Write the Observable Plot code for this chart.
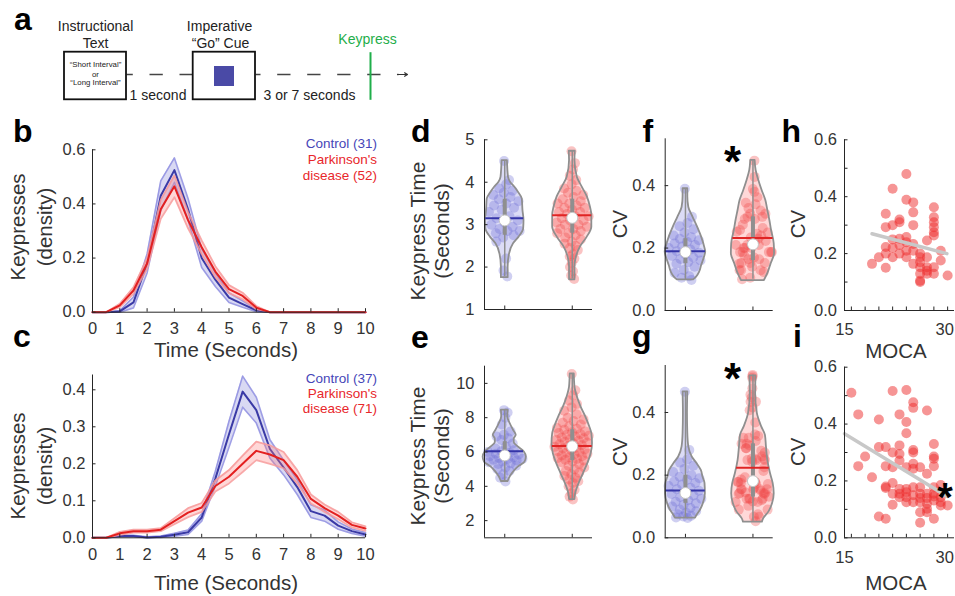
<!DOCTYPE html>
<html><head><meta charset="utf-8">
<script src="https://cdn.jsdelivr.net/npm/d3@7"></script>
<script src="https://cdn.jsdelivr.net/npm/@observablehq/plot@0.6"></script>
<style>
body{margin:0;background:#fff;}
#fig{position:relative;width:955px;height:596px;overflow:hidden;background:#fff;}
</style></head><body><div id="fig"></div>
<script>
// ---------------- DATA ----------------
const timeBins = [0,0.5,1,1.5,2,2.5,3,3.5,4,4.5,5,5.5,6,6.5,7,7.5,8,8.5,9,9.5,10];
const bControlMean = [0,0,0.003,0.036,0.18,0.43,0.525,0.38,0.2,0.12,0.054,0.03,0.007,0,0,0,0,0,0,0,0];
const bControlSem  = [0,0,0.003,0.02,0.035,0.055,0.045,0.04,0.035,0.025,0.018,0.012,0.005,0,0,0,0,0,0,0,0];
const bPdMean      = [0,0,0.025,0.08,0.18,0.38,0.465,0.34,0.24,0.15,0.085,0.06,0.017,0,0,0,0,0,0,0,0];
const bPdSem       = [0,0,0.006,0.012,0.02,0.035,0.04,0.03,0.025,0.02,0.015,0.012,0.006,0,0,0,0,0,0,0,0];
const cControlMean = [0,0,0.005,0.005,0.001,0.003,0.008,0.015,0.055,0.16,0.28,0.395,0.345,0.24,0.19,0.137,0.072,0.06,0.033,0.018,0.009];
const cControlSem  = [0,0,0.002,0.002,0.002,0.002,0.004,0.006,0.01,0.02,0.035,0.042,0.035,0.025,0.02,0.02,0.017,0.015,0.01,0.006,0.005];
const cPdMean      = [0,0,0.012,0.018,0.018,0.022,0.045,0.068,0.082,0.14,0.165,0.2,0.235,0.225,0.21,0.165,0.105,0.08,0.06,0.035,0.025];
const cPdSem       = [0,0,0.004,0.004,0.004,0.004,0.008,0.012,0.012,0.015,0.018,0.022,0.025,0.025,0.022,0.018,0.012,0.01,0.01,0.007,0.006];

// keypress times (s), short interval / long interval
const dControlTimes = [4.5,4.05,3.95,3.85,3.8,3.75,3.7,3.65,3.6,3.55,3.5,3.45,3.4,3.35,3.3,3.2,3.15,3.1,3.05,3.0,2.95,2.9,2.85,2.85,2.8,2.75,2.7,2.6,2.2,1.92,1.78];
const dPdTimes = [4.73,4.45,4.3,4.15,4.05,3.95,3.85,3.8,3.75,3.7,3.65,3.6,3.55,3.5,3.5,3.45,3.4,3.4,3.35,3.3,3.3,3.25,3.2,3.2,3.15,3.1,3.1,3.05,3.0,3.0,2.95,2.9,2.9,2.85,2.8,2.8,2.75,2.7,2.65,2.6,2.55,2.5,2.45,2.4,2.3,2.25,2.2,2.1,2.0,1.9,1.8,1.72];
const eControlTimes = [8.44,8.3,8.0,7.6,7.2,7.0,6.9,6.8,6.7,6.5,6.3,6.2,6.1,6.05,6.0,5.95,5.9,5.85,5.8,5.75,5.7,5.65,5.6,5.6,5.55,5.5,5.45,5.4,5.35,5.3,5.2,5.1,5.0,4.9,4.7,4.5,4.28];
const ePdTimes = [10.55,9.6,9.3,9.0,8.8,8.6,8.4,8.2,8.0,7.9,7.8,7.7,7.6,7.5,7.4,7.35,7.3,7.2,7.15,7.1,7.05,7.0,6.95,6.9,6.85,6.8,6.75,6.7,6.65,6.6,6.55,6.5,6.45,6.4,6.35,6.3,6.25,6.2,6.15,6.1,6.05,6.0,5.95,5.9,5.85,5.8,5.75,5.7,5.65,5.6,5.55,5.5,5.45,5.4,5.3,5.2,5.1,5.0,4.9,4.8,4.7,4.6,4.5,4.4,4.3,4.2,4.0,3.8,3.6,3.4,3.23];
const fControlCv = [0.39,0.3,0.28,0.27,0.26,0.25,0.24,0.235,0.23,0.225,0.22,0.215,0.21,0.205,0.2,0.195,0.19,0.185,0.18,0.175,0.17,0.165,0.16,0.155,0.15,0.14,0.13,0.12,0.11,0.105,0.098];
const gControlCv = [0.466,0.28,0.25,0.24,0.23,0.22,0.21,0.2,0.195,0.19,0.185,0.18,0.175,0.17,0.165,0.16,0.155,0.15,0.145,0.14,0.135,0.13,0.125,0.12,0.115,0.11,0.105,0.1,0.095,0.09,0.085,0.08,0.075,0.07,0.068,0.065,0.063];

// Parkinson's MOCA vs CV (also the PD violins of f and g)
const hMoca = [19,20,21,21,21,21,21,22,22,22,22,22,23,23,23,23,23,24,24,24,24,24,24,25,25,25,25,25,25,26,26,26,26,26,26,26,27,27,27,27,27,28,28,28,28,28,28,28,28,29,29,30];
const hCv = [0.164,0.187,0.34,0.293,0.223,0.2,0.15,0.428,0.30,0.25,0.22,0.187,0.32,0.31,0.252,0.23,0.2,0.48,0.389,0.258,0.24,0.21,0.187,0.38,0.345,0.30,0.234,0.21,0.164,0.2,0.187,0.17,0.152,0.129,0.105,0.1,0.246,0.187,0.152,0.14,0.129,0.363,0.328,0.31,0.293,0.275,0.264,0.152,0.129,0.21,0.176,0.123];
const iMoca = [16,17,17,18,19,20,20,20,21,21,21,21,21,22,22,22,22,22,22,23,23,23,23,23,23,23,24,24,24,24,24,24,24,24,25,25,25,25,25,25,25,25,25,26,26,26,26,26,26,26,27,27,27,27,27,27,27,28,28,28,28,28,28,28,28,28,29,29,29,29,30];
const iCv = [0.51,0.434,0.252,0.286,0.213,0.416,0.319,0.075,0.319,0.252,0.18,0.175,0.067,0.516,0.30,0.248,0.193,0.155,0.116,0.434,0.325,0.295,0.272,0.172,0.155,0.143,0.52,0.407,0.368,0.248,0.172,0.16,0.143,0.125,0.477,0.457,0.309,0.30,0.26,0.243,0.178,0.15,0.125,0.248,0.178,0.155,0.14,0.125,0.09,0.053,0.448,0.225,0.155,0.14,0.12,0.102,0.09,0.33,0.286,0.278,0.252,0.178,0.155,0.145,0.131,0.067,0.186,0.143,0.125,0.114,0.114];
const hFit = [[19,0.27],[29.9,0.2]];
const iFit = [[15,0.366],[29.9,0.146]];

// violin outlines: [value, half-width in category units]
const dControlShape = [[1.75,0.05],[2.0,0.05],[2.3,0.07],[2.55,0.13],[2.7,0.21],[2.9,0.28],[3.1,0.285],[3.33,0.27],[3.6,0.26],[3.77,0.2],[3.88,0.15],[4.0,0.085],[4.12,0.055],[4.51,0.04]];
const dPdShape = [[1.7,0.04],[2.0,0.04],[2.23,0.06],[2.47,0.12],[2.7,0.22],[2.94,0.29],[3.22,0.29],[3.41,0.27],[3.65,0.225],[3.88,0.15],[4.12,0.075],[4.51,0.04],[4.73,0.045]];
const eControlShape = [[4.28,0.05],[4.54,0.08],[4.83,0.13],[5.12,0.2],[5.41,0.3],[5.71,0.32],[6.0,0.29],[6.3,0.2],[6.55,0.14],[6.75,0.14],[6.98,0.17],[7.27,0.13],[7.66,0.08],[8.05,0.045],[8.44,0.05]];
const ePdShape = [[3.23,0.04],[3.56,0.05],[4.15,0.1],[4.73,0.165],[5.32,0.23],[5.9,0.28],[6.49,0.3],[7.07,0.29],[7.46,0.26],[8.05,0.2],[8.63,0.13],[9.22,0.075],[9.8,0.04],[10.55,0.03]];
const fControlShape = [[0.098,0.12],[0.107,0.165],[0.123,0.21],[0.144,0.24],[0.166,0.275],[0.187,0.3],[0.203,0.285],[0.235,0.24],[0.267,0.18],[0.3,0.11],[0.33,0.05],[0.364,0.035],[0.39,0.035]];
const fPdShape = [[0.096,0.17],[0.118,0.22],[0.15,0.27],[0.182,0.32],[0.214,0.315],[0.257,0.275],[0.289,0.25],[0.321,0.22],[0.353,0.19],[0.385,0.135],[0.417,0.086],[0.449,0.047],[0.481,0.032]];
const gControlShape = [[0.063,0.15],[0.071,0.17],[0.087,0.22],[0.109,0.265],[0.141,0.295],[0.173,0.29],[0.194,0.26],[0.215,0.235],[0.237,0.17],[0.258,0.1],[0.29,0.05],[0.333,0.035],[0.397,0.03],[0.466,0.035]];
const gPdShape = [[0.05,0.14],[0.061,0.16],[0.082,0.235],[0.109,0.29],[0.141,0.315],[0.173,0.3],[0.205,0.26],[0.247,0.22],[0.29,0.2],[0.327,0.185],[0.354,0.13],[0.397,0.065],[0.46,0.04],[0.517,0.045]];
// summary stats: [q1, median, q3, mean]
const dControlStats = [2.75,3.1,3.6,3.15];
const dPdStats = [2.8,3.16,3.6,3.22];
const eControlStats = [5.45,5.8,6.6,6.04];
const ePdStats = [5.5,6.33,7.3,6.35];
const fControlStats = [0.15,0.187,0.23,0.19];
const fPdStats = [0.16,0.212,0.3,0.232];
const gControlStats = [0.11,0.143,0.2,0.151];
const gPdStats = [0.13,0.181,0.3,0.224];

const groupLabels = ["Control", "Parkinson's"];

// ---------------- STYLE ----------------
const FONT = '"Liberation Sans", Arial, Helvetica, sans-serif';
const AXIS = "#262626";
const C_LINE = "#3a3aa6", C_BAND = "#8080d8", C_EDGE = "#8e8ee0";
const P_LINE = "#e32020", P_BAND = "#ff7a7a", P_EDGE = "#f79a9a";
const fig = document.getElementById("fig");
const baseStyle = {fontFamily: FONT, fontSize: "16.5px", color: "#333", background: "transparent", overflow: "visible"};

function place(el, left, top) {
  el.style.position = "absolute"; el.style.left = left + "px"; el.style.top = top + "px";
  fig.appendChild(el);
}

function axesMarks({xDomain, yDomain, xTicks, yTicks, xLabelTicks, frameW, frameH, xPad = 11, yPad = 7, xMinor = [], yMinor = [], lastDx = 0}) {
  const m = [
    Plot.ruleX([xDomain[0]], {stroke: AXIS, strokeWidth: 1}),
    Plot.ruleY([yDomain[0]], {stroke: AXIS, strokeWidth: 1}),
    Plot.tickY(yTicks.concat(yMinor), {y: d => d, insetRight: frameW - 3.5, stroke: AXIS}),
    Plot.tickX(xTicks.concat(xMinor), {x: d => d, insetTop: frameH - 3.5, stroke: AXIS}),
    Plot.axisY(yTicks, {tickSize: 0, tickPadding: yPad, label: null})
  ];
  if (xLabelTicks) {
    if (lastDx) {
      m.push(Plot.axisX(xLabelTicks.slice(0, -1), {tickSize: 0, tickPadding: xPad, label: null}));
      m.push(Plot.axisX(xLabelTicks.slice(-1), {tickSize: 0, tickPadding: xPad, label: null, dx: lastDx}));
    } else {
      m.push(Plot.axisX(xLabelTicks, {tickSize: 0, tickPadding: xPad, label: null}));
    }
  }
  return m;
}

// ---------------- PANEL a (schematic) ----------------
(function () {
  const boxes = [{x1: 64, x2: 126, y1: 51.7, y2: 99.3}, {x1: 192.7, x2: 255, y1: 51.7, y2: 99.3}];
  const cue = [{x1: 214, x2: 234, y1: 66, y2: 86}];
  const dashes = [{x1: 126, x2: 192.7, off: 7}, {x1: 255, x2: 398, off: 8.3}];
  const labels = [
    {t: "Instructional", x: 95, b: 30.7, s: 14, c: "#222"},
    {t: "Text", x: 95, b: 47.3, s: 14, c: "#222"},
    {t: "Imperative", x: 219, b: 30.7, s: 14, c: "#222"},
    {t: "\u201CGo\u201D Cue", x: 220, b: 47.3, s: 14, c: "#222"},
    {t: "Keypress", x: 367, b: 43.3, s: 14, c: "#1fae4a"},
    {t: "\u201CShort Interval\u201D", x: 95, b: 66, s: 7.8, c: "#222"},
    {t: "or", x: 95, b: 76, s: 7.8, c: "#222"},
    {t: "\u201CLong Interval\u201D", x: 95, b: 84.7, s: 7.8, c: "#222"},
    {t: "1 second", x: 157.5, b: 99.3, s: 14, c: "#222"},
    {t: "3 or 7 seconds", x: 309, b: 99.3, s: 14, c: "#222"}
  ];
  const marks = [
    ...dashes.map(d => Plot.link([d], {x1: "x1", x2: "x2", y1: () => 74, y2: () => 74, stroke: "#444", strokeWidth: 1.4, strokeDasharray: "13.3,16.7", strokeDashoffset: d.off})),
    Plot.arrow([{x1: 397, x2: 407}], {x1: "x1", x2: "x2", y1: () => 74, y2: () => 74, stroke: "#333", strokeWidth: 1.2, headLength: 6}),
    Plot.rect(boxes, {x1: "x1", x2: "x2", y1: "y1", y2: "y2", fill: "white", stroke: "#111", strokeWidth: 1.8}),
    Plot.rect(cue, {x1: "x1", x2: "x2", y1: "y1", y2: "y2", fill: "#4a4aa6"}),
    Plot.link([{x: 370}], {x1: "x", x2: "x", y1: () => 51.7, y2: () => 99.3, stroke: "#1fae4a", strokeWidth: 2}),
    ...labels.map(l => Plot.text([l], {x: "x", y: d => d.b - 0.32 * d.s, text: "t", fontSize: l.s, fill: l.c}))
  ];
  const svg = Plot.plot({width: 420, height: 110, margin: 0,
    x: {domain: [0, 420], range: [0, 420], axis: null},
    y: {domain: [0, 110], range: [0, 110], axis: null},
    style: baseStyle, marks});
  place(svg, 0, 0);
})();

// ---------------- PANELS b, c (density curves) ----------------
function densityPanel({cm, cs, pm, ps, yDomain, yTicks, left, top, mT, mB}) {
  const width = 385, height = 240, mL = 92, mR = 20;
  const rows = timeBins.map((t, i) => ({t,
    cm: cm[i], clo: Math.max(0, cm[i] - cs[i]), chi: cm[i] + cs[i],
    pm: pm[i], plo: Math.max(0, pm[i] - ps[i]), phi: pm[i] + ps[i]}));
  const ticks = d3.range(0, 11);
  const marks = [
    Plot.areaY(rows, {x: "t", y1: "clo", y2: "chi", fill: C_BAND, fillOpacity: 0.3}),
    Plot.lineY(rows, {x: "t", y: "clo", stroke: C_EDGE, strokeWidth: 1.6, strokeOpacity: 0.85}),
    Plot.lineY(rows, {x: "t", y: "chi", stroke: C_EDGE, strokeWidth: 1.6, strokeOpacity: 0.85}),
    Plot.lineY(rows, {x: "t", y: "cm", stroke: C_LINE, strokeWidth: 2}),
    Plot.areaY(rows, {x: "t", y1: "plo", y2: "phi", fill: P_BAND, fillOpacity: 0.3}),
    Plot.lineY(rows, {x: "t", y: "plo", stroke: P_EDGE, strokeWidth: 1.8, strokeOpacity: 0.85}),
    Plot.lineY(rows, {x: "t", y: "phi", stroke: P_EDGE, strokeWidth: 1.8, strokeOpacity: 0.85}),
    Plot.lineY(rows, {x: "t", y: "pm", stroke: P_LINE, strokeWidth: 2}),
    ...axesMarks({xDomain: [0, 10], yDomain, xTicks: ticks, yTicks, xLabelTicks: ticks,
      frameW: width - mL - mR, frameH: height - mT - mB, xPad: 10, yPad: 7})
  ];
  const svg = Plot.plot({width, height, marginLeft: mL, marginRight: mR, marginTop: mT, marginBottom: mB,
    x: {domain: [0, 10]}, y: {domain: yDomain}, style: baseStyle, marks});
  place(svg, left, top);
}
densityPanel({cm: bControlMean, cs: bControlSem, pm: bPdMean, ps: bPdSem, yDomain: [0, 0.6], yTicks: [0, 0.2, 0.4, 0.6], left: 0, top: 110, mT: 39.3, mB: 38.3});
densityPanel({cm: cControlMean, cs: cControlSem, pm: cPdMean, ps: cPdSem, yDomain: [0, 0.44], yTicks: [0, 0.1, 0.2, 0.3, 0.4], left: 0, top: 320, mT: 54.5, mB: 22.7});

// ---------------- PANELS d-g (violins) ----------------
function hwAt(shape, v) {
  if (v <= shape[0][0]) return shape[0][1];
  for (let i = 1; i < shape.length; i++) {
    if (v <= shape[i][0]) {
      const [y0, w0] = shape[i - 1], [y1, w1] = shape[i];
      return w0 + (w1 - w0) * (v - y0) / (y1 - y0);
    }
  }
  return shape[shape.length - 1][1];
}
const CTRL_COL = {fill: "#8a8ae0", dot: "#6c6cd4", line: "#3535a8"};
const PD_COL = {fill: "#ff7f7f", dot: "#f04848", line: "#e02424"};
function violinMarks(vals, shape, stats, c, col) {
  const [q1, med, q3, mean] = stats;
  const dots = vals.map((v, i) => {
    const u = ((i * 0.6180339887 + 0.37) % 1) * 2 - 1;
    return {x: c + u * hwAt(shape, v) * 0.9, y: v};
  });
  const lo = d3.min(vals), hi = d3.max(vals), mw = hwAt(shape, mean);
  const G = "#8f8f8f";
  return [
    Plot.areaX(shape, {y: d => d[0], x1: d => c - d[1], x2: d => c + d[1], fill: col.fill, fillOpacity: 0.3, curve: "monotone-y"}),
    Plot.dot(dots, {x: "x", y: "y", r: 5, fill: col.dot, fillOpacity: 0.33, stroke: "none"}),
    Plot.areaX(shape, {y: d => d[0], x1: d => c - d[1], x2: d => c + d[1], fill: "none", stroke: G, strokeWidth: 1.8, curve: "monotone-y"}),
    Plot.ruleX([c], {x: d => d, y1: () => lo, y2: () => hi, stroke: G, strokeWidth: 1.5}),
    Plot.ruleX([c], {x: d => d, y1: () => q1, y2: () => q3, stroke: G, strokeWidth: 4}),
    Plot.ruleY([mean], {y: d => d, x1: () => c - mw, x2: () => c + mw, stroke: col.line, strokeWidth: 2}),
    Plot.dot([med], {x: () => c, y: d => d, r: 5.5, fill: "white", stroke: "#c4c4c4", strokeWidth: 1})
  ];
}
function violinPanel({ctrl, pd, yDomain, yTicks, left, top, width, height, mL, mR, mT, mB}) {
  const marks = [
    ...violinMarks(ctrl.vals, ctrl.shape, ctrl.stats, 1, CTRL_COL),
    ...violinMarks(pd.vals, pd.shape, pd.stats, 2, PD_COL),
    ...axesMarks({xDomain: [0.7, 2.3], yDomain, xTicks: [1, 2], yTicks, xLabelTicks: null,
      frameW: width - mL - mR, frameH: height - mT - mB, yPad: 10})
  ];
  const svg = Plot.plot({width, height, marginLeft: mL, marginRight: mR, marginTop: mT, marginBottom: mB,
    x: {domain: [0.7, 2.3], axis: null}, y: {domain: yDomain}, style: baseStyle, marks});
  place(svg, left, top);
}
violinPanel({ctrl: {vals: dControlTimes, shape: dControlShape, stats: dControlStats},
  pd: {vals: dPdTimes, shape: dPdShape, stats: dPdStats},
  yDomain: [1, 5], yTicks: [1, 2, 3, 4, 5], left: 390, top: 110, width: 230, height: 220, mL: 94, mR: 28, mT: 29.3, mB: 21});
violinPanel({ctrl: {vals: eControlTimes, shape: eControlShape, stats: eControlStats},
  pd: {vals: ePdTimes, shape: ePdShape, stats: ePdStats},
  yDomain: [1, 11], yTicks: [2, 4, 6, 8, 10], left: 390, top: 320, width: 230, height: 276, mL: 94, mR: 28, mT: 45.7, mB: 58.7});
violinPanel({ctrl: {vals: fControlCv, shape: fControlShape, stats: fControlStats},
  pd: {vals: hCv, shape: fPdShape, stats: fPdStats},
  yDomain: [0, 0.55], yTicks: [0, 0.2, 0.4], left: 600, top: 110, width: 190, height: 220, mL: 64.7, mR: 17.3, mT: 28.3, mB: 20});
violinPanel({ctrl: {vals: gControlCv, shape: gControlShape, stats: gControlStats},
  pd: {vals: iCv, shape: gPdShape, stats: gPdStats},
  yDomain: [0, 0.55], yTicks: [0, 0.2, 0.4], left: 600, top: 320, width: 190, height: 276, mL: 64.7, mR: 17.3, mT: 45, mB: 58.7});

// ---------------- PANELS h, i (MOCA scatter) ----------------
function scatterPanel({moca, cv, fit, left, top, mT, mB}) {
  const width = 185, height = 240, mL = 74, mR = 1;
  const pts = moca.map((m, i) => ({m, v: cv[i]}));
  const marks = [
    Plot.dot(pts, {x: "m", y: "v", r: 5, fill: "#ee2c2c", fillOpacity: 0.5, stroke: "none"}),
    Plot.line(fit, {x: d => d[0], y: d => d[1], stroke: "#c8c8c8", strokeWidth: 3.5}),
    ...axesMarks({xDomain: [15, 31], yDomain: [0, 0.6], xTicks: [15, 30], yTicks: [0, 0.2, 0.4, 0.6],
      xMinor: [16, 18, 20, 22, 24, 26, 28], yMinor: [0.1, 0.3, 0.5], xLabelTicks: [15, 30],
      frameW: width - mL - mR, frameH: height - mT - mB, xPad: 13, yPad: 7.5, lastDx: -3})
  ];
  const svg = Plot.plot({width, height, marginLeft: mL, marginRight: mR, marginTop: mT, marginBottom: mB,
    x: {domain: [15, 31]}, y: {domain: [0, 0.6]}, style: baseStyle, marks});
  place(svg, left, top);
}
scatterPanel({moca: hMoca, cv: hCv, fit: hFit, left: 770, top: 110, mT: 29.3, mB: 40});
scatterPanel({moca: iMoca, cv: iCv, fit: iFit, left: 770, top: 320, mT: 46.7, mB: 22.7});

// ---------------- TEXT OVERLAY ----------------
const NS = "http://www.w3.org/2000/svg";
const ov = document.createElementNS(NS, "svg");
ov.setAttribute("width", 955); ov.setAttribute("height", 596);
ov.style.position = "absolute"; ov.style.left = "0px"; ov.style.top = "0px"; ov.style.overflow = "visible";
ov.style.fontFamily = FONT;
fig.appendChild(ov);
function T(x, y, s, {size = 20.5, weight = "normal", anchor = "start", fill = "#333", rot = false} = {}) {
  const t = document.createElementNS(NS, "text");
  if (rot) { t.setAttribute("transform", `translate(${x},${y}) rotate(-90)`); }
  else { t.setAttribute("x", x); t.setAttribute("y", y); }
  t.setAttribute("font-size", size); t.setAttribute("font-weight", weight);
  t.setAttribute("text-anchor", anchor); t.setAttribute("fill", fill);
  t.textContent = s; ov.appendChild(t);
}
// panel letters
[["a", 14, 30], ["b", 13, 141.7], ["c", 13, 346.7], ["d", 411, 142.3], ["e", 411, 347.7],
 ["f", 642.5, 141.7], ["g", 632, 346.7], ["h", 781.5, 141.7], ["i", 793, 346.7]]
  .forEach(([s, x, y]) => T(x, y, s, {size: 32, weight: "bold", fill: "#000"}));
// y titles
T(25, 227, "Keypresses", {rot: true, anchor: "middle"});
T(51.5, 227, "(density)", {rot: true, anchor: "middle"});
T(25, 466, "Keypresses", {rot: true, anchor: "middle"});
T(51.5, 466, "(density)", {rot: true, anchor: "middle"});
T(424.5, 231, "Keypress Time", {rot: true, anchor: "middle", size: 21});
T(449, 231, "(Seconds)", {rot: true, anchor: "middle", size: 21});
T(424.5, 456, "Keypress Time", {rot: true, anchor: "middle", size: 21});
T(449, 456, "(Seconds)", {rot: true, anchor: "middle", size: 21});
T(626.7, 224, "CV", {rot: true, anchor: "middle"});
T(626.7, 451.7, "CV", {rot: true, anchor: "middle"});
T(805, 224, "CV", {rot: true, anchor: "middle"});
T(805, 451.7, "CV", {rot: true, anchor: "middle"});
// x titles
T(226, 357.3, "Time (Seconds)", {anchor: "middle"});
T(226, 590, "Time (Seconds)", {anchor: "middle"});
T(896, 358.3, "MOCA", {anchor: "middle"});
T(896, 590, "MOCA", {anchor: "middle"});
// legends
T(377, 148.3, `${groupLabels[0]} (31)`, {size: 13.5, anchor: "end", fill: "#4646b8"});
T(377, 164, groupLabels[1], {size: 13.5, anchor: "end", fill: "#e8262b"});
T(377, 179.5, "disease (52)", {size: 13.5, anchor: "end", fill: "#e8262b"});
T(377, 382.7, `${groupLabels[0]} (37)`, {size: 13.5, anchor: "end", fill: "#4646b8"});
T(377, 397.7, groupLabels[1], {size: 13.5, anchor: "end", fill: "#e8262b"});
T(377, 412.5, "disease (71)", {size: 13.5, anchor: "end", fill: "#e8262b"});
// significance stars
T(732.5, 177, "*", {size: 44, weight: "bold", anchor: "middle", fill: "#000"});
T(732.5, 394, "*", {size: 44, weight: "bold", anchor: "middle", fill: "#000"});
T(945, 511, "*", {size: 40, weight: "bold", anchor: "middle", fill: "#000"});
</script></body></html>
